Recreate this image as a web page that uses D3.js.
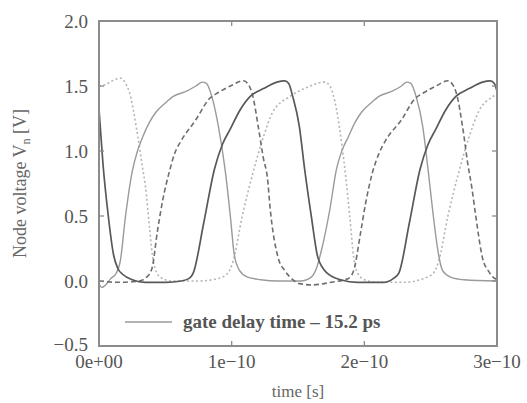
<!DOCTYPE html>
<html>
<head>
<meta charset="utf-8">
<script src="https://cdn.jsdelivr.net/npm/d3@7"></script>
<style>
  body { margin: 0; background: #fff; }
  svg { display: block; }
</style>
</head>
<body>
<script>
const width = 527;
const height = 403;

// time in units of 1e-10 s, voltage in V
const xTicks = [0, 1, 2, 3];
const xTickLabels = ['0e+00', '1e\u221210', '2e\u221210', '3e\u221210'];
const yTicks = [-0.5, 0, 0.5, 1, 1.5, 2];
const yTickLabels = ['\u22120.5', '0.0', '0.5', '1.0', '1.5', '2.0'];

const dottedNode = [
  [0, 1.50], [0.05, 1.51], [0.10, 1.54], [0.166, 1.56], [0.20, 1.52], [0.23, 1.45],
  [0.28, 1.19], [0.33, 0.86], [0.35, 0.73], [0.38, 0.42], [0.41, 0.15], [0.46, 0.03],
  [0.55, 0.0], [0.75, 0.0], [0.90, 0.02], [0.97, 0.06], [1.01, 0.15], [1.08, 0.50],
  [1.16, 0.83], [1.24, 1.11], [1.31, 1.30], [1.44, 1.42], [1.57, 1.49], [1.70, 1.53],
  [1.74, 1.50], [1.79, 1.32], [1.83, 1.05], [1.86, 0.80], [1.89, 0.50], [1.92, 0.18],
  [1.95, 0.06], [2.00, 0.01], [2.10, -0.01], [2.30, -0.01], [2.45, 0.02], [2.52, 0.06],
  [2.56, 0.15], [2.63, 0.50], [2.71, 0.83], [2.79, 1.11], [2.86, 1.30], [2.97, 1.42], [3.0, 1.44]
];

const lightNode = [
  [0, -0.02], [0.02, -0.05], [0.05, -0.03], [0.09, 0.02], [0.13, 0.06], [0.16, 0.15],
  [0.20, 0.50], [0.25, 0.84], [0.29, 1.00], [0.33, 1.11], [0.38, 1.22], [0.43, 1.30],
  [0.50, 1.37], [0.56, 1.42], [0.66, 1.46], [0.73, 1.50], [0.78, 1.53], [0.81, 1.52],
  [0.85, 1.42], [0.90, 1.19], [0.95, 0.86], [0.99, 0.50], [1.02, 0.20], [1.06, 0.08],
  [1.12, 0.03], [1.22, 0.01], [1.35, 0.0], [1.52, 0.0], [1.60, 0.03], [1.64, 0.10],
  [1.68, 0.25], [1.74, 0.55], [1.79, 0.86], [1.83, 1.00], [1.88, 1.11], [1.93, 1.22],
  [1.98, 1.30], [2.05, 1.37], [2.11, 1.42], [2.21, 1.46], [2.28, 1.50], [2.32, 1.53],
  [2.35, 1.52], [2.39, 1.42], [2.44, 1.19], [2.48, 0.86], [2.52, 0.50], [2.56, 0.20],
  [2.59, 0.08], [2.65, 0.03], [2.75, 0.01], [3.0, 0.0]
];

const dashedNode = [
  [0, 0.0], [0.15, -0.01], [0.30, 0.0], [0.36, 0.03], [0.40, 0.10], [0.44, 0.38],
  [0.48, 0.62], [0.53, 0.84], [0.57, 0.98], [0.62, 1.08], [0.73, 1.24], [0.83, 1.40],
  [0.90, 1.45], [0.99, 1.50], [1.09, 1.54], [1.12, 1.52], [1.16, 1.42], [1.20, 1.19],
  [1.24, 0.94], [1.27, 0.79], [1.29, 0.56], [1.35, 0.18], [1.40, 0.08], [1.45, 0.02],
  [1.51, -0.02], [1.60, -0.03], [1.75, -0.01], [1.88, 0.02], [1.92, 0.08], [1.97, 0.36],
  [2.01, 0.60], [2.06, 0.83], [2.11, 0.98], [2.16, 1.08], [2.28, 1.24], [2.38, 1.40],
  [2.45, 1.45], [2.54, 1.50], [2.63, 1.54], [2.66, 1.52], [2.70, 1.42], [2.74, 1.19],
  [2.78, 0.90], [2.81, 0.72], [2.84, 0.50], [2.89, 0.18], [2.94, 0.07], [2.97, 0.03], [3.0, 0.01]
];

const darkNode = [
  [0, 1.32], [0.03, 0.90], [0.07, 0.50], [0.11, 0.20], [0.14, 0.10], [0.18, 0.05],
  [0.25, 0.01], [0.35, -0.01], [0.50, -0.01], [0.62, 0.0], [0.68, 0.02], [0.71, 0.06],
  [0.79, 0.45], [0.87, 0.86], [0.93, 1.05], [0.99, 1.17], [1.06, 1.31], [1.14, 1.42],
  [1.24, 1.48], [1.34, 1.53], [1.40, 1.54], [1.43, 1.52], [1.46, 1.42], [1.51, 1.19],
  [1.55, 0.86], [1.60, 0.50], [1.65, 0.18], [1.72, 0.06], [1.82, 0.01], [1.95, -0.01],
  [2.15, -0.01], [2.22, 0.02], [2.26, 0.06], [2.34, 0.45], [2.42, 0.86], [2.48, 1.05],
  [2.54, 1.17], [2.61, 1.31], [2.69, 1.42], [2.79, 1.48], [2.89, 1.53], [2.95, 1.54],
  [2.98, 1.52], [3.0, 1.46]
];

const series = [
  { data: dottedNode, color: '#b4b4b4', dash: '2,2.5', w: 1.6 },
  { data: lightNode,  color: '#9a9a9a', dash: null,    w: 1.4 },
  { data: dashedNode, color: '#6e6e6e', dash: '5,3',   w: 1.6 },
  { data: darkNode,   color: '#585858', dash: null,    w: 1.7 }
];

const margin = { left: 99, right: 30, top: 21, bottom: 57 };

const x = d3.scaleLinear().domain([0, 3]).range([margin.left, width - margin.right]);
const y = d3.scaleLinear().domain([-0.5, 2]).range([height - margin.bottom, margin.top]);

const svg = d3.create('svg')
  .attr('width', width)
  .attr('height', height)
  .style('background-color', '#fff');

document.body.appendChild(svg.node());

svg.append('clipPath').attr('id', 'plotClip')
  .append('rect')
  .attr('x', x(0)).attr('y', y(2))
  .attr('width', x(3) - x(0)).attr('height', y(-0.5) - y(2));

const line = d3.line()
  .x(d => x(d[0]))
  .y(d => y(d[1]))
  .curve(d3.curveMonotoneX);

const curves = svg.append('g').attr('clip-path', 'url(#plotClip)');
series.forEach(s => {
  curves.append('path')
    .datum(s.data)
    .attr('d', line)
    .attr('fill', 'none')
    .attr('stroke', s.color)
    .attr('stroke-width', s.w)
    .attr('stroke-dasharray', s.dash)
    .attr('stroke-linejoin', 'round');
});

// frame
svg.append('rect')
  .attr('x', x(0)).attr('y', y(2))
  .attr('width', x(3) - x(0)).attr('height', y(-0.5) - y(2))
  .attr('fill', 'none')
  .attr('stroke', '#8c8c8c')
  .attr('stroke-width', 2);

// inward ticks on all four sides
const tickLen = 5;
const ticks = svg.append('g').attr('stroke', '#8c8c8c').attr('stroke-width', 1.3);
yTicks.forEach(v => {
  ticks.append('line').attr('x1', x(0)).attr('x2', x(0) + tickLen).attr('y1', y(v)).attr('y2', y(v));
  ticks.append('line').attr('x1', x(3)).attr('x2', x(3) - tickLen).attr('y1', y(v)).attr('y2', y(v));
});
xTicks.forEach(t => {
  ticks.append('line').attr('x1', x(t)).attr('x2', x(t)).attr('y1', y(-0.5)).attr('y2', y(-0.5) - tickLen);
  ticks.append('line').attr('x1', x(t)).attr('x2', x(t)).attr('y1', y(2)).attr('y2', y(2) + tickLen);
});

const font = '"Liberation Serif", "DejaVu Serif", serif';

svg.append('g').selectAll('text')
  .data(yTicks)
  .enter().append('text')
  .attr('x', x(0) - 11)
  .attr('y', d => y(d) - (d === -0.5 ? 2 : 0))
  .attr('dy', '0.35em')
  .attr('text-anchor', 'end')
  .attr('font-family', font)
  .attr('font-size', 19)
  .attr('fill', '#555')
  .text((d, i) => yTickLabels[i]);

svg.append('g').selectAll('text')
  .data(xTicks)
  .enter().append('text')
  .attr('x', d => x(d))
  .attr('y', y(-0.5) + 22)
  .attr('text-anchor', 'middle')
  .attr('font-family', font)
  .attr('font-size', 19)
  .attr('fill', '#555')
  .text((d, i) => xTickLabels[i]);

// axis titles
svg.append('text')
  .attr('x', (x(0) + x(3)) / 2)
  .attr('y', 397)
  .attr('text-anchor', 'middle')
  .attr('font-family', font)
  .attr('font-size', 17)
  .attr('fill', '#666')
  .text('time [s]');

const yTitle = svg.append('text')
  .attr('transform', `translate(26, ${(y(2) + y(-0.5)) / 2}) rotate(-90)`)
  .attr('text-anchor', 'middle')
  .attr('font-family', font)
  .attr('font-size', 18)
  .attr('fill', '#666');
yTitle.append('tspan').text('Node voltage V');
yTitle.append('tspan').attr('font-size', 12).attr('dy', 4).text('n');
yTitle.append('tspan').attr('dy', -4).text(' [V]');

// legend
svg.append('line')
  .attr('x1', 125).attr('x2', 172)
  .attr('y1', 322).attr('y2', 322)
  .attr('stroke', '#9a9a9a')
  .attr('stroke-width', 1.4);

svg.append('text')
  .attr('x', 183)
  .attr('y', 328)
  .attr('font-family', font)
  .attr('font-size', 19)
  .attr('font-weight', 'bold')
  .attr('fill', '#555')
  .text('gate delay time \u2013 15.2 ps');
</script>
</body>
</html>
